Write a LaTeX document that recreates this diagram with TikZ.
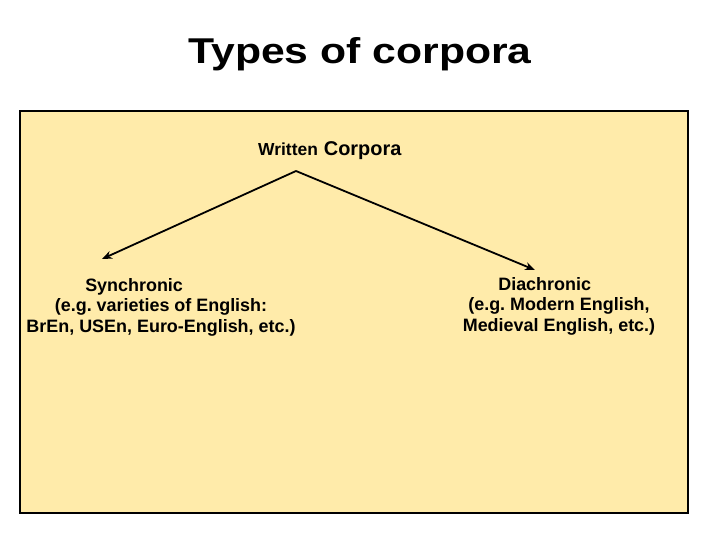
\documentclass[tikz,border=0pt]{standalone}
\usepackage{fontspec}
\setmainfont{Liberation Sans}
\usetikzlibrary{arrows.meta}
\definecolor{paneyellow}{RGB}{255,235,170}

\begin{document}
\begin{tikzpicture}[x=1bp,y=-1bp,
    branchtext/.style={font=\bfseries\fontsize{18}{20.5}\selectfont, align=center, inner sep=0pt, anchor=north},
    branch/.style={-{Stealth[length=10bp,width=8bp]}, line width=1.8bp}]
 %frame
    \useasboundingbox (0,0) rectangle (720,540);
    \draw[fill=paneyellow, line width=1.2bp](20,111) rectangle (688,513);
 %title
    \node[anchor=base, inner sep=0pt, font=\bfseries\fontsize{36}{40}\selectfont] (title) at (360,64) {\scalebox{1.19}[1]{Types of corpora}};
 %top
    \node[anchor=base west, inner sep=0pt, font=\bfseries] (written) at (258,156) {{\fontsize{17.5}{20}\selectfont Written}\hspace{6bp}{\fontsize{20}{22}\selectfont Corpora}};
    \coordinate (apex) at (296,171);
 %left
    \node[branchtext] (sync) at (161,278) {Synchronic\hspace*{3em}\\(e.g.\ varieties of English:\hspace*{0.7em}\\BrEn, USEn, Euro-English, etc.)};
    \coordinate (synctip) at (102,259);
 %right
    \node[branchtext] (diach) at (559,277) {Diachronic\hspace*{1.6em}\\(e.g.\ Modern English,\hspace*{0.7em}\\Medieval English, etc.)};
    \coordinate (diachtip) at (535,270);
 %arrows
    \draw[branch](apex) -- (synctip);
    \draw[branch](apex) -- (diachtip);
\end{tikzpicture}
\end{document}
